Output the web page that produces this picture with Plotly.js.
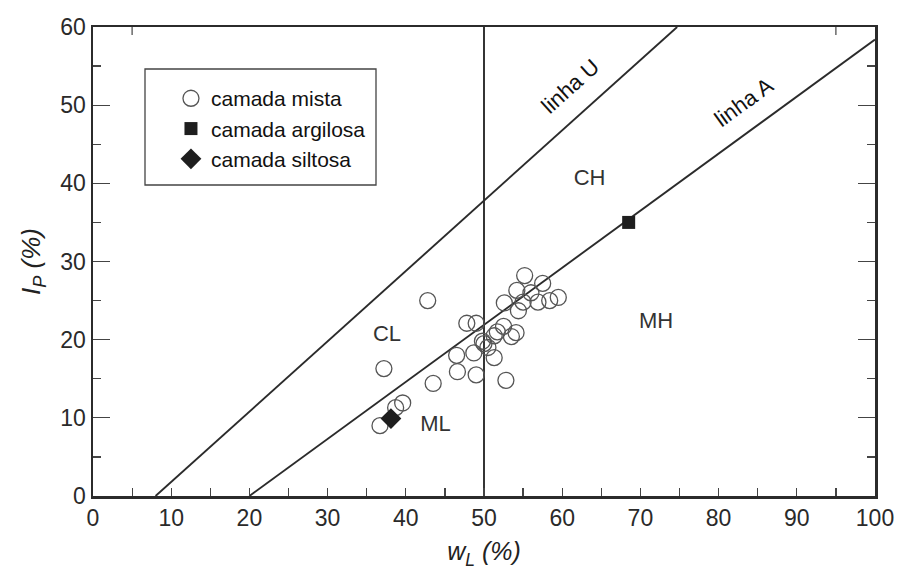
<!DOCTYPE html>
<html>
<head>
<meta charset="utf-8">
<script src="https://cdn.plot.ly/plotly-3.0.1.min.js"></script>
<style>html,body{margin:0;padding:0;background:#fff;}#chart{width:899px;height:579px;}</style>
</head>
<body>
<div id="chart"></div>
<script>
// Camada mista (open circles)
const mistaLL = [36.7, 38.7, 39.6, 37.2, 42.8, 43.5, 46.5, 46.6, 47.8, 49.0, 48.7, 49.0, 50.0, 50.5, 51.3, 51.3, 52.5, 53.5, 54.1, 52.8, 52.6, 54.2, 55.2, 54.4, 55.0, 56.0, 57.5, 56.9, 58.4, 59.5, 51.7, 49.8];
const mistaPI = [9.0, 11.3, 11.9, 16.3, 25.0, 14.4, 18.0, 15.9, 22.1, 22.1, 18.3, 15.5, 19.5, 19.0, 17.7, 20.5, 21.7, 20.4, 20.9, 14.8, 24.7, 26.3, 28.2, 23.7, 24.8, 26.0, 27.2, 24.8, 25.0, 25.4, 21.0, 19.8];
// Camada argilosa (filled square)
const argilosaLL = [68.5];
const argilosaPI = [35.0];
// Camada siltosa (filled diamond)
const siltosaLL = [38.1];
const siltosaPI = [9.9];
// Reference lines of the plasticity chart
const uLineLL = [8, 74.7];
const uLinePI = [0, 60];
const aLineLL = [20, 100];
const aLinePI = [0, 58.4];
const llLimitLL = [50, 50];
const llLimitPI = [0, 60];
const zoneLabels = ['CL', 'ML', 'CH', 'MH'];
const zoneLL = [37.6, 43.8, 63.5, 72.0];
const zonePI = [20.5, 9.0, 40.5, 22.2];
const xTicks = [0, 10, 20, 30, 40, 50, 60, 70, 80, 90, 100];
const yTicks = [0, 10, 20, 30, 40, 50, 60];

const lineColor = '#2b2b2b';
const fontFam = '"Liberation Sans", Arial, sans-serif';

const traces = [
  {x: uLineLL, y: uLinePI, mode: 'lines', line: {color: lineColor, width: 1.9}, showlegend: false, hoverinfo: 'skip'},
  {x: aLineLL, y: aLinePI, mode: 'lines', line: {color: lineColor, width: 1.9}, showlegend: false, hoverinfo: 'skip'},
  {x: llLimitLL, y: llLimitPI, mode: 'lines', line: {color: lineColor, width: 1.9}, showlegend: false, hoverinfo: 'skip'},
  {x: mistaLL, y: mistaPI, mode: 'markers', name: 'camada mista',
   marker: {symbol: 'circle-open', size: 16, color: '#555', line: {width: 1.3, color: '#555'}}},
  {x: argilosaLL, y: argilosaPI, mode: 'markers', name: 'camada argilosa',
   marker: {symbol: 'square', size: 13, color: '#1e1e1e'}},
  {x: siltosaLL, y: siltosaPI, mode: 'markers', name: 'camada siltosa',
   marker: {symbol: 'diamond', size: 16, color: '#1e1e1e'}},
  {x: zoneLL, y: zonePI, mode: 'text', text: zoneLabels, textfont: {family: fontFam, size: 22, color: '#333'},
   showlegend: false, hoverinfo: 'skip'}
];

const layout = {
  width: 899, height: 579,
  margin: {l: 93, r: 24, t: 27, b: 83},
  paper_bgcolor: '#fff', plot_bgcolor: '#fff',
  font: {family: fontFam, color: '#222', size: 22},
  xaxis: {
    range: [0, 100], tickvals: xTicks,
    ticks: 'inside', ticklen: 8, tickwidth: 1.2, tickcolor: '#444',
    minor: {tickvals: [5,15,25,35,45,55,65,75,85,95], ticks: 'inside', ticklen: 8, tickwidth: 1.2, tickcolor: '#444', showgrid: false},
    showgrid: false, zeroline: false, showline: true, linecolor: '#2b2b2b', linewidth: 2.5, mirror: true,
    tickfont: {size: 23, color: '#2a2a2a'},
    title: {text: '<i>w<sub>L</sub> (%)</i>', font: {size: 25, color: '#222'}, standoff: 13}
  },
  yaxis: {
    range: [0, 60], tickvals: yTicks,
    ticks: 'inside', ticklen: 17, tickwidth: 1.2, tickcolor: '#444',
    minor: {tickvals: [5,15,25,35,45,55], ticks: 'inside', ticklen: 8, tickwidth: 1.2, tickcolor: '#444', showgrid: false},
    showgrid: false, zeroline: false, showline: true, linecolor: '#2b2b2b', linewidth: 2.5, mirror: 'ticks',
    tickfont: {size: 23, color: '#2a2a2a'},
    title: {text: '<i>I<sub>P</sub> (%)</i>', font: {size: 26, color: '#222'}, standoff: 12}
  },
  legend: {
    x: 0.0997, y: 0.891, xanchor: 'left', yanchor: 'top',
    bgcolor: 'rgba(0,0,0,0)', borderwidth: 0,
    font: {size: 21, color: '#111'}, tracegroupgap: 0, itemwidth: 30
  },
  shapes: [
    {type: 'rect', xref: 'paper', yref: 'paper', x0: (145-93)/782, x1: (376-93)/782, y0: (496-185)/469, y1: (496-69)/469,
     line: {color: '#444', width: 1.3}, fillcolor: 'rgba(0,0,0,0)'},
    {type: 'line', xref: 'x', yref: 'paper', x0: 5, x1: 5, y0: 1, y1: 1 - 8/469, line: {color: '#444', width: 1.2}},
    {type: 'line', xref: 'x', yref: 'paper', x0: 95, x1: 95, y0: 1, y1: 1 - 8/469, line: {color: '#444', width: 1.2}}
  ],
  annotations: [
    {x: 61.0, y: 52.4, xref: 'x', yref: 'y', text: 'linha U', showarrow: false, textangle: -42,
     font: {size: 22, color: '#111'}},
    {x: 83.2, y: 50.3, xref: 'x', yref: 'y', text: 'linha A', showarrow: false, textangle: -36,
     font: {size: 22, color: '#111'}}
  ]
};

Plotly.newPlot('chart', traces, layout, {displayModeBar: false, staticPlot: true});
</script>
</body>
</html>
